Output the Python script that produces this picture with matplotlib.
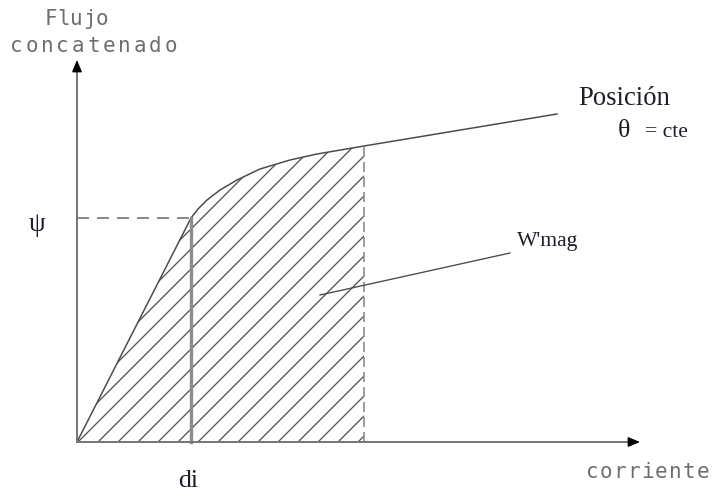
import matplotlib.pyplot as plt

# flux linkage vs current, coenergy hatched under the curve
i_lin = [0, 114]            # linear part, up to di
psi_lin = [0, 224]
i_sat = [114, 121, 130, 143, 160, 183, 213, 240, 287, 480]   # saturating part
psi_sat = [224, 233, 242, 252, 262, 273, 282, 288, 296, 328]
i_end = 287                 # end of the hatched area
i_axis, psi_axis = 563, 382

DPI = 120
fig = plt.figure(figsize=(713 / DPI, 496 / DPI), dpi=DPI)
ax = fig.add_axes([0, 0, 1, 1])
ax.set_xlim(-77, 636)
ax.set_ylim(-54, 442)
ax.axis('off')

plt.rcParams['hatch.linewidth'] = 0.8

gray = '#777777'
dark = '#4a4a4a'

# hatched areas
ax.fill_between(i_lin, psi_lin, 0, facecolor='none', edgecolor='#555555',
                hatch='//', linewidth=0)
n = i_sat.index(i_end) + 1
ax.fill_between(i_sat[:n], psi_sat[:n], 0, facecolor='none', edgecolor='#555555',
                hatch='//', linewidth=0)

# magnetisation curve
ax.plot(i_lin + i_sat[1:], psi_lin + psi_sat[1:], color=dark, lw=0.9)

# di line and dashed guides
ax.plot([i_lin[-1], i_lin[-1]], [0, psi_lin[-1]], color='#8c8c8c', lw=2.0)
ax.plot([0, i_lin[-1]], [psi_lin[-1], psi_lin[-1]], color='#8c8c8c', lw=1.2,
        dashes=(6, 4))
ax.plot([i_end, i_end], [0, psi_sat[n - 1]], color='#8c8c8c', lw=1.0,
        dashes=(6, 3))

# axes with arrow heads
ax.plot([0, i_axis - 8], [0, 0], color=gray, lw=1.2)
ax.plot([0, 0], [0, psi_axis - 8], color=gray, lw=1.2)
head = dict(arrowstyle='-|>,head_length=0.6,head_width=0.25', color='black',
            lw=0.8, shrinkA=0, shrinkB=0)
ax.annotate('', xy=(i_axis, 0), xytext=(i_axis - 10, 0), arrowprops=head)
ax.annotate('', xy=(0, psi_axis), xytext=(0, psi_axis - 10), arrowprops=head)

# pointer to the coenergy label
ax.plot([243, 433], [147, 189], color=dark, lw=0.8)


def spaced(x, y, s, step, **kw):
    # monospaced label with wide letter spacing
    for k, ch in enumerate(s):
        ax.annotate(ch, (x, y), xytext=(k * step, 0), textcoords='offset pixels',
                    ha='center', va='baseline', family='DejaVu Sans Mono',
                    fontsize=12.5, color='#6e6e6e', **kw)


spaced(-26, 417, 'Flujo', 12.8)
spaced(-61, 390, 'concatenado', 15.5)
spaced(515, -36, 'corriente', 13.9)

serif = dict(family='Liberation Serif', color='#1e1e28')
ax.text(-40, 218, 'ψ', fontsize=16, ha='center', va='center', **serif)
ax.text(111, -45, 'di', fontsize=15.5, ha='center', va='baseline', **serif)
ax.text(501, 337, 'Posición', fontsize=16, ha='left', va='baseline', **serif)
ax.text(541, 305, 'θ', fontsize=15.5, ha='left', va='baseline', **serif)
ax.text(568, 305, '= cte', fontsize=13, ha='left', va='baseline', **serif)
ax.text(440, 196, "W'mag", fontsize=13, ha='left', va='baseline', **serif)

fig.savefig('out.png', dpi=DPI)
